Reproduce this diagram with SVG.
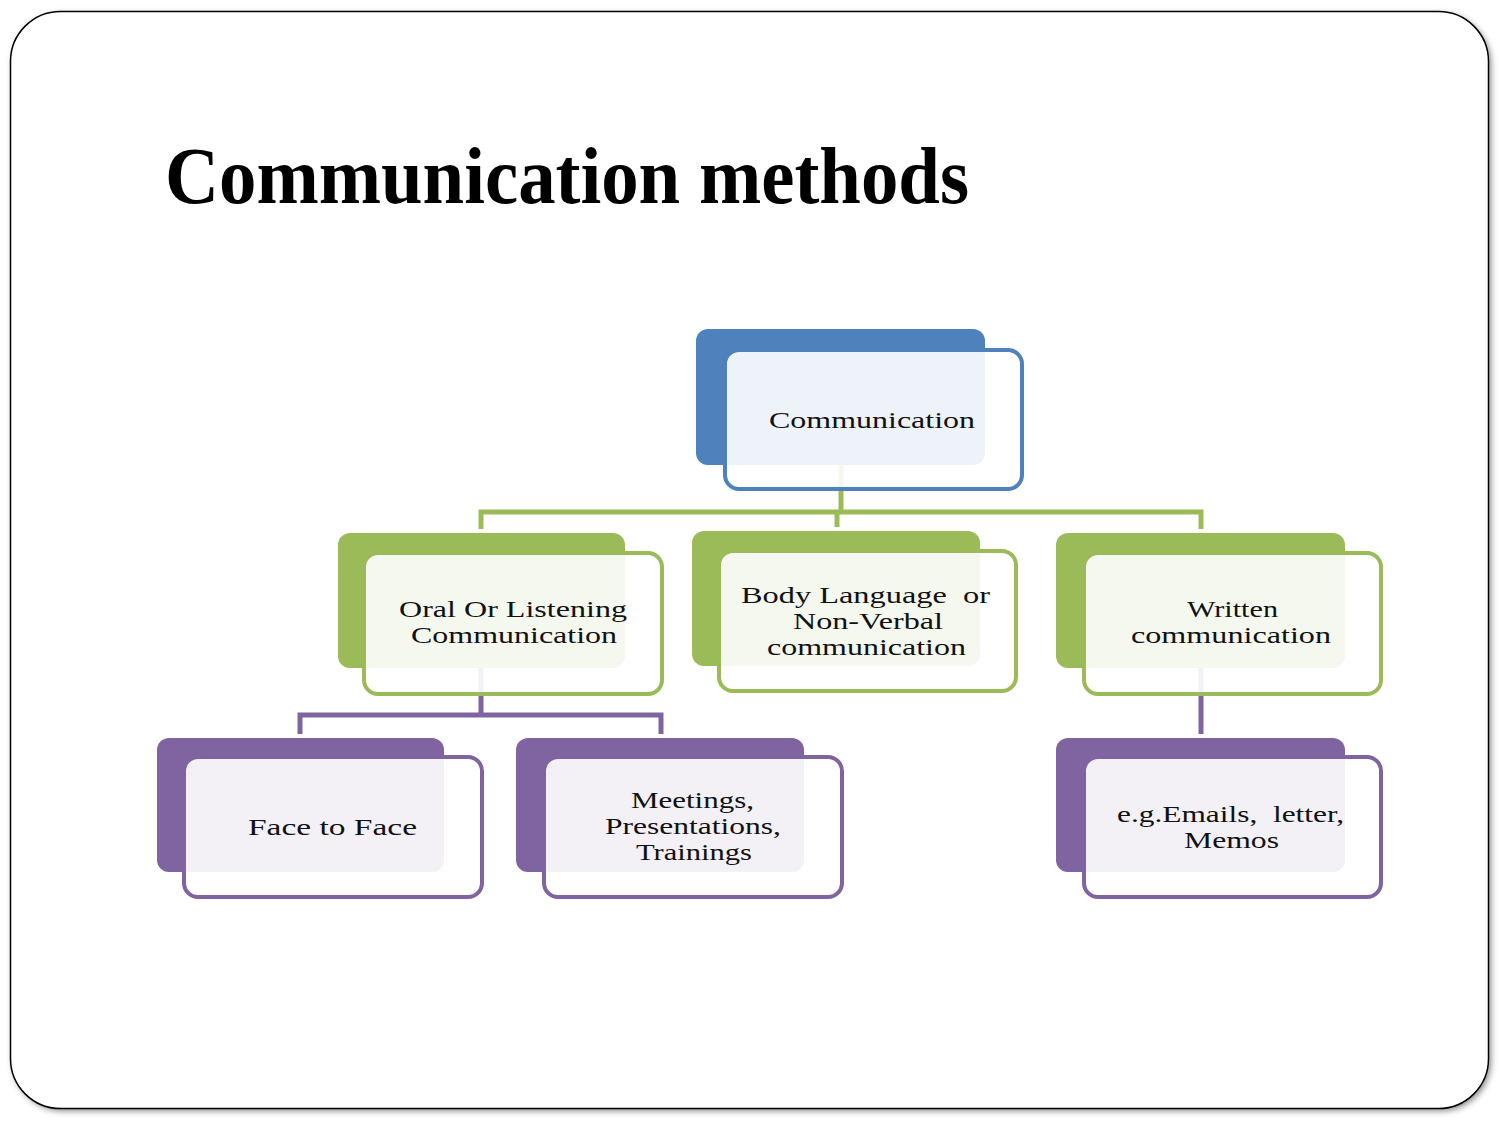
<svg xmlns="http://www.w3.org/2000/svg" width="1500" height="1125" viewBox="0 0 1500 1125">
<defs>
<filter id="sh" x="-5%" y="-5%" width="110%" height="110%"><feGaussianBlur stdDeviation="3"/></filter>
<style>
.t{font-family:"Liberation Serif","Times New Roman",serif;font-size:23px;fill:#111;text-anchor:start}
.title{font-family:"Liberation Serif","Times New Roman",serif;font-size:80px;font-weight:bold;fill:#000}
.front{fill:#fff;fill-opacity:0.9;stroke-width:4}
.bb{fill:#4F81BD}.bs{stroke:#4F81BD}
.gb{fill:#9BBB59}.gs{stroke:#9BBB59}
.pb{fill:#8064A2}.ps{stroke:#8064A2}
.cg{fill:none;stroke:#9BBB59;stroke-width:5}
.cp{fill:none;stroke:#8064A2;stroke-width:5}
</style>
</defs>
<rect width="1500" height="1125" fill="#fff"/>
<rect x="13" y="14" width="1478" height="1097" rx="50" fill="#888" filter="url(#sh)"/>
<rect x="10.5" y="11.5" width="1478" height="1097" rx="50" fill="#fff" stroke="#000" stroke-width="1.5"/>
<text class="title" x="165" y="203" textLength="804" lengthAdjust="spacingAndGlyphs">Communication methods</text>

<g id="connectors">
<path class="cg" d="M841 465V512M481 529V512H1201V529M837 512V527"/>
<path class="cp" d="M481 668V715M300 734V715H661V734M1201 668V734"/>
</g>

<g id="n-communication">
<rect class="bb" x="696" y="329" width="289" height="136" rx="12"/>
<rect class="front bs" x="725" y="350" width="297" height="139" rx="14"/>
<text class="t" x="769" y="428" textLength="206" lengthAdjust="spacingAndGlyphs">Communication</text>
</g>

<g id="n-oral">
<rect class="gb" x="338" y="533" width="287" height="135" rx="12"/>
<rect class="front gs" x="364" y="553" width="298" height="141" rx="14"/>
<text class="t" x="399" y="617" textLength="228" lengthAdjust="spacingAndGlyphs">Oral Or Listening</text>
<text class="t" x="411" y="643" textLength="206" lengthAdjust="spacingAndGlyphs">Communication</text>
</g>

<g id="n-body">
<rect class="gb" x="692" y="531" width="288" height="135" rx="12"/>
<rect class="front gs" x="719" y="551" width="297" height="140" rx="14"/>
<text class="t" x="741" y="603" textLength="249" lengthAdjust="spacingAndGlyphs" xml:space="preserve">Body Language  or</text>
<text class="t" x="793" y="629" textLength="150" lengthAdjust="spacingAndGlyphs">Non-Verbal</text>
<text class="t" x="767" y="655" textLength="199" lengthAdjust="spacingAndGlyphs">communication</text>
</g>

<g id="n-written">
<rect class="gb" x="1056" y="533" width="289" height="135" rx="12"/>
<rect class="front gs" x="1084" y="553" width="297" height="141" rx="14"/>
<text class="t" x="1187" y="617" textLength="91" lengthAdjust="spacingAndGlyphs">Written</text>
<text class="t" x="1131" y="643" textLength="200" lengthAdjust="spacingAndGlyphs">communication</text>
</g>

<g id="n-face">
<rect class="pb" x="157" y="738" width="287" height="134" rx="12"/>
<rect class="front ps" x="184" y="757" width="298" height="140" rx="14"/>
<text class="t" x="248" y="835" textLength="169" lengthAdjust="spacingAndGlyphs">Face to Face</text>
</g>

<g id="n-meetings">
<rect class="pb" x="516" y="738" width="288" height="134" rx="12"/>
<rect class="front ps" x="544" y="757" width="298" height="140" rx="14"/>
<text class="t" x="631" y="808" textLength="123" lengthAdjust="spacingAndGlyphs">Meetings,</text>
<text class="t" x="605" y="834" textLength="176" lengthAdjust="spacingAndGlyphs">Presentations,</text>
<text class="t" x="636" y="860" textLength="116" lengthAdjust="spacingAndGlyphs">Trainings</text>
</g>

<g id="n-eg">
<rect class="pb" x="1056" y="738" width="289" height="134" rx="12"/>
<rect class="front ps" x="1084" y="757" width="297" height="140" rx="14"/>
<text class="t" x="1117" y="822" textLength="227" lengthAdjust="spacingAndGlyphs" xml:space="preserve">e.g.Emails,  letter,</text>
<text class="t" x="1184" y="848" textLength="95" lengthAdjust="spacingAndGlyphs">Memos</text>
</g>
</svg>
